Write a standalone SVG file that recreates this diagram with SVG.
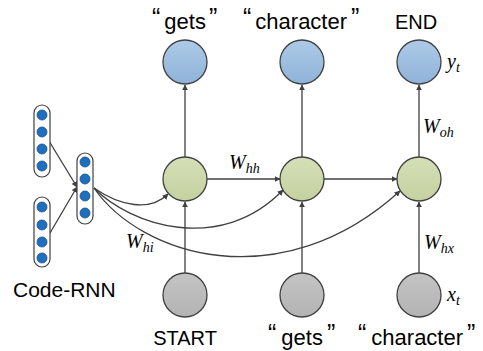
<svg xmlns="http://www.w3.org/2000/svg" width="483" height="351" viewBox="0 0 483 351">
<defs>
<linearGradient id="gb" x1="0" y1="0" x2="0" y2="1"><stop offset="0" stop-color="#adcbe8"/><stop offset="1" stop-color="#8fb2d8"/></linearGradient>
<linearGradient id="gg" x1="0" y1="0" x2="0" y2="1"><stop offset="0" stop-color="#d5dfb8"/><stop offset="1" stop-color="#c4d19f"/></linearGradient>
<linearGradient id="gy" x1="0" y1="0" x2="0" y2="1"><stop offset="0" stop-color="#c4c4c4"/><stop offset="1" stop-color="#b3b3b3"/></linearGradient>
<marker id="ar" viewBox="0 0 10 10" refX="9" refY="5" markerWidth="6" markerHeight="6" markerUnits="userSpaceOnUse" orient="auto"><path d="M0,0L10,5L0,10z" fill="#404040"/></marker>
</defs>
<style>
.n{stroke:#404040;stroke-width:1.3}
.b{fill:url(#gb)}.g{fill:url(#gg)}.y{fill:url(#gy)}
.c{fill:none;stroke:#404040;stroke-width:1.3;marker-end:url(#ar)}
.t{font-family:"Liberation Sans","Noto Sans",sans-serif;font-size:22px;fill:#000}
.w{font-size:20px}
.q{font-size:25px}
.m{font-family:"Liberation Serif","DejaVu Serif",serif;font-style:italic;font-size:20px;fill:#000}
.s{font-size:14px}
.col{fill:#fff;stroke:#404040;stroke-width:1.2}
.d{fill:#1f6fbf;stroke:#1a4f8a;stroke-width:0.8}
</style>
<g id="connectors">
<line class="c" x1="185" y1="273" x2="185" y2="202"/>
<line class="c" x1="302" y1="273" x2="302" y2="202"/>
<line class="c" x1="419" y1="273" x2="419" y2="202"/>
<line class="c" x1="185" y1="157" x2="185" y2="85"/>
<line class="c" x1="302" y1="157" x2="302" y2="85"/>
<line class="c" x1="419" y1="157" x2="419" y2="85"/>
<line class="c" x1="207" y1="179" x2="280" y2="179"/>
<line class="c" x1="324" y1="179" x2="397" y2="179"/>
<line class="c" x1="49" y1="141" x2="77" y2="187"/>
<line class="c" x1="50" y1="233" x2="77" y2="187"/>
<path class="c" d="M94,188 C120,206 150,212 168,194"/>
<path class="c" d="M94,188 C130,225 220,255 283,190"/>
<path class="c" d="M94,188 C140,255 280,300 400,191"/>
</g>
<g id="code-rnn">
<rect class="col" x="34" y="105" width="16" height="72" rx="8"/>
<circle class="d" cx="42" cy="115" r="5"/><circle class="d" cx="42" cy="132" r="5"/><circle class="d" cx="42" cy="149" r="5"/><circle class="d" cx="42" cy="166" r="5"/>
<rect class="col" x="34" y="197" width="16" height="70" rx="8"/>
<circle class="d" cx="42" cy="207" r="5"/><circle class="d" cx="42" cy="225" r="5"/><circle class="d" cx="42" cy="242" r="5"/><circle class="d" cx="42" cy="258" r="5"/>
<rect class="col" x="77" y="153" width="16" height="71" rx="8"/>
<circle class="d" cx="85" cy="162" r="5"/><circle class="d" cx="85" cy="179" r="5"/><circle class="d" cx="85" cy="196" r="5"/><circle class="d" cx="85" cy="213" r="5"/>
<text class="t" x="13" y="297" style="font-size:21px">Code-RNN</text>
</g>
<g id="out1"><circle class="n b" cx="185" cy="62" r="22"/><text class="t" x="152" y="29"><tspan class="q" dy="-3">“</tspan><tspan dx="4" dy="3">gets</tspan><tspan class="q" dx="3" dy="-3">”</tspan></text></g>
<g id="out2"><circle class="n b" cx="302" cy="62" r="22"/><text class="t" x="243" y="29"><tspan class="q" dy="-3">“</tspan><tspan dx="4" dy="3">character</tspan><tspan class="q" dx="4" dy="-3">”</tspan></text></g>
<g id="out3"><circle class="n b" cx="419" cy="62" r="22"/><text class="t w" x="416" y="29" text-anchor="middle">END</text><text class="m" x="447" y="68">y<tspan class="s" dy="4">t</tspan></text></g>
<g id="h1"><circle class="n g" cx="185" cy="179" r="22"/></g>
<g id="h2"><circle class="n g" cx="302" cy="179" r="22"/></g>
<g id="h3"><circle class="n g" cx="419" cy="179" r="22"/></g>
<g id="in1"><circle class="n y" cx="185" cy="295" r="22"/><text class="t w" x="185" y="345" text-anchor="middle">START</text></g>
<g id="in2"><circle class="n y" cx="302" cy="295" r="22"/><text class="t" x="268" y="345"><tspan class="q" dy="-3">“</tspan><tspan dx="5" dy="3">gets</tspan><tspan class="q" dx="4" dy="-3">”</tspan></text></g>
<g id="in3"><circle class="n y" cx="419" cy="295" r="22"/><text class="t" x="358" y="345"><tspan class="q" dy="-3">“</tspan><tspan dx="5" dy="3">character</tspan><tspan class="q" dx="4" dy="-3">”</tspan></text><text class="m" x="447" y="301">x<tspan class="s" dy="4">t</tspan></text></g>
<g id="labels">
<text class="m" x="229" y="169">W<tspan class="s" dy="4">hh</tspan></text>
<text class="m" x="423" y="133">W<tspan class="s" dy="4">oh</tspan></text>
<text class="m" x="424" y="249">W<tspan class="s" dy="4">hx</tspan></text>
<text class="m" x="126" y="248">W<tspan class="s" dy="4">hi</tspan></text>
</g>
</svg>
